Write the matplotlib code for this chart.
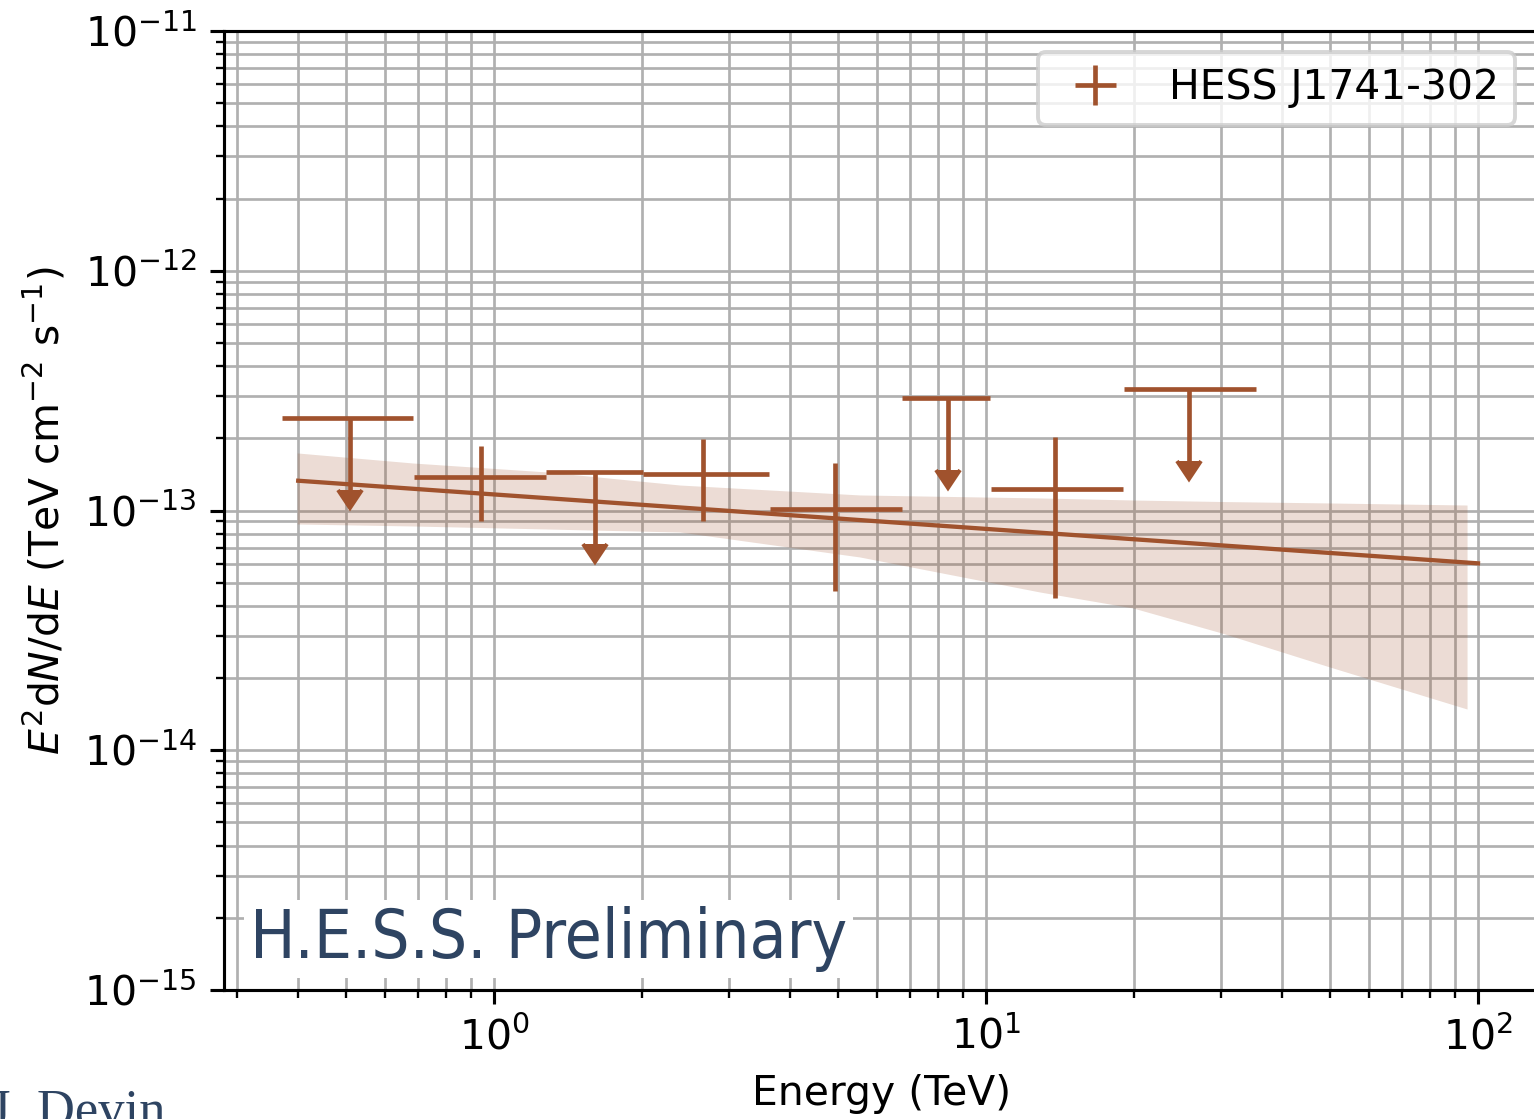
import numpy as np
import matplotlib
matplotlib.use("Agg")
import matplotlib.pyplot as plt

# flux points (TeV, TeV cm-2 s-1)
e_det = [0.94, 2.66, 4.93, 13.8]
e_det_lo = [0.688, 2.01, 3.64, 10.24]
e_det_hi = [1.275, 3.62, 6.75, 19.0]
f_det = [1.38e-13, 1.424e-13, 1.012e-13, 1.23e-13]
f_det_lo = [9.07e-14, 9.07e-14, 4.63e-14, 4.33e-14]
f_det_hi = [1.864e-13, 1.98e-13, 1.574e-13, 2.03e-13]

# upper limits
e_ul = [0.51, 1.604, 8.36, 25.9]
e_ul_lo = [0.371, 1.275, 6.75, 19.04]
e_ul_hi = [0.684, 2.01, 10.2, 35.3]
f_ul = [2.43e-13, 1.447e-13, 2.96e-13, 3.22e-13]

# best-fit power law and its error band
fit_e = [0.4, 100.0]
fit_f = [1.331e-13, 6.02e-14]
band_e = [0.398, 0.684, 1.281, 2.388, 5.54, 12.88, 19.9, 30.2, 50.0, 95.0]
band_hi = [1.738e-13, 1.578e-13, 1.448e-13, 1.277e-13, 1.161e-13,
           1.128e-13, 1.106e-13, 1.090e-13, 1.075e-13, 1.054e-13]
band_lo = [8.785e-14, 8.618e-14, 8.372e-14, 8.134e-14, 6.40e-14,
           4.57e-14, 3.92e-14, 3.08e-14, 2.224e-14, 1.486e-14]

col = "sienna"
W, H, DPI = 1534, 1119, 280
plt.rcParams["font.size"] = 10.5

fig = plt.figure(figsize=(W / DPI, H / DPI), dpi=DPI)
ax = fig.add_axes([224 / W, 1 - 990 / H, (1540 - 224) / W, (990 - 31) / H])
ax.set_xscale("log")
ax.set_yscale("log")
ax.set_xlim(10 ** ((224 - 494) / 492), 10 ** ((1540 - 494) / 492))
ax.set_ylim(1e-15, 1e-11)

ax.fill_between(band_e, band_lo, band_hi, color=col, alpha=0.2, lw=0)
ax.plot(fit_e, fit_f, color=col, lw=1.1)

e_det = np.array(e_det)
xerr = [e_det - np.array(e_det_lo), np.array(e_det_hi) - e_det]
yerr = [np.array(f_det) - np.array(f_det_lo), np.array(f_det_hi) - np.array(f_det)]
ax.errorbar(e_det, f_det, xerr=xerr, yerr=yerr, fmt="none", color=col,
            elinewidth=1.2, capsize=0, label="HESS J1741-302")

e_ul = np.array(e_ul)
f_ul = np.array(f_ul)
xerr_ul = [e_ul - np.array(e_ul_lo), np.array(e_ul_hi) - e_ul]
ax.errorbar(e_ul, f_ul, xerr=xerr_ul, yerr=0.5 * f_ul, uplims=True,
            fmt="none", color=col, elinewidth=1.2, capsize=0)

ax.grid(True, which="both", color="#b0b0b0", lw=0.7)
ax.set_axisbelow(True)

ax.set_xlabel("Energy (TeV)")
ax.set_ylabel(r"$E^2\mathrm{d}N/\mathrm{d}E$ (TeV cm$^{-2}$ s$^{-1}$)")

ax.legend(loc="upper right", bbox_to_anchor=(1515 / W, 1 - 52 / H),
          bbox_transform=fig.transFigure, borderaxespad=0)

fig.text(250 / W, 1 - 958 / H, "H.E.S.S. Preliminary",
         family="DejaVu Sans", fontstretch="condensed", fontsize=17.3,
         color="#2e4462", ha="left", va="baseline",
         bbox=dict(facecolor="white", edgecolor="none", pad=1.5))
fig.text(-10 / W, 1 - 1126 / H, "J. Devin", family=["Liberation Serif", "DejaVu Serif"],
         fontsize=13.5, color="#2e4462", ha="left", va="baseline")

fig.savefig("out.png", dpi=DPI)
